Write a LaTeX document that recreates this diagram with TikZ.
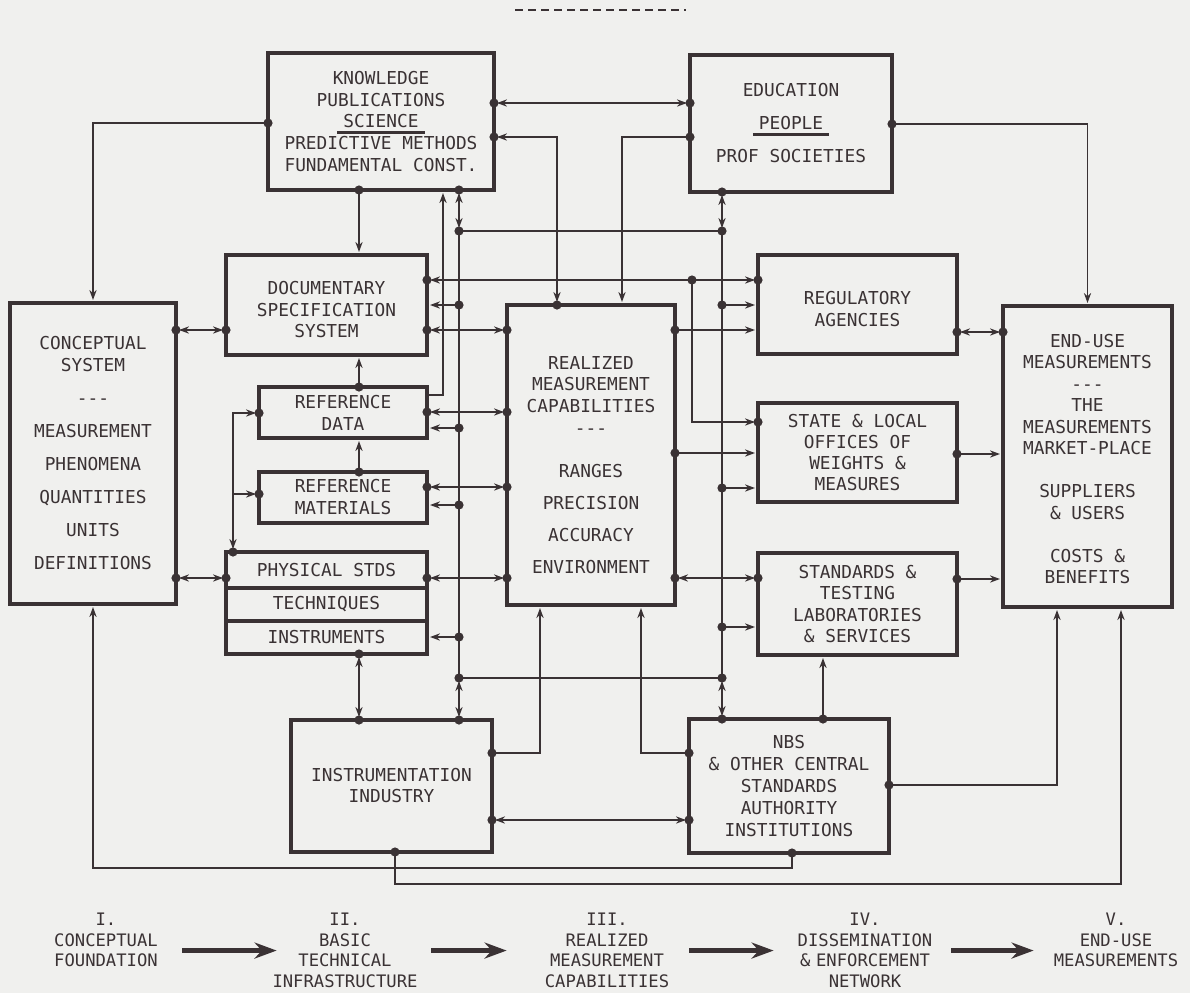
\documentclass[tikz,border=0pt]{standalone}
\usepackage{fontspec}
\setmonofont{DejaVu Sans Mono}
\usetikzlibrary{arrows.meta}

\definecolor{paper}{RGB}{240,240,238}
\definecolor{ink}{RGB}{58,50,52}

\def\px{0.5pt}
\newcommand\ulbar[1]{\setbox0\hbox{#1}\rlap{\kern-3pt\rule[-3.2pt]{\dimexpr\wd0+6pt\relax}{1.5pt}}\box0}

\begin{document}
\begin{tikzpicture}
[x=\px, y=-\px,
>={Stealth[length=5pt,width=3.6pt]},
block/.style={
  draw=ink, line width=2.25pt, outer sep=0pt, inner sep=0pt,
  text=ink, align=center, font=\ttfamily\fontsize{8.9}{10.75}\selectfont
},
lead/.style={font=\ttfamily\fontsize{8.9}{#1}\selectfont},
wire/.style={draw=ink, line width=0.8pt},
link/.style={wire, shorten >=1.5pt, shorten <=1.5pt},
stage/.style={
  anchor=north, inner sep=0pt, text width=80pt, align=center,
  text=ink, font=\ttfamily\fontsize{8.6}{10.25}\selectfont
},
flow/.style={draw=ink, line width=2.6pt, -{Stealth[length=11pt,width=8pt]}}
]
\useasboundingbox[fill=paper] (0,0) rectangle (1190,993);

% heading rule
\draw[ink, line width=1pt, dash pattern=on 4pt off 2.5pt] (515,10) -- (686,10);

% Knowledge and people
\node[block, lead=10.9pt, minimum width=226*\px, minimum height=137*\px] (kps) at (381,121.5)
  {KNOWLEDGE\\PUBLICATIONS\\\ulbar{SCIENCE}\\PREDICTIVE METHODS\\FUNDAMENTAL CONST.};
\node[block, lead=16.5pt, minimum width=202*\px, minimum height=137*\px] (edu) at (791,123.5)
  {EDUCATION\\\ulbar{PEOPLE}\\PROF SOCIETIES};

% Conceptual foundation
\node[block, lead=11pt, minimum width=166*\px, minimum height=301*\px] (cs) at (93,453.5)
  {CONCEPTUAL\\SYSTEM\\[5.5pt]-{}-{}-\\[5.5pt]MEASUREMENT\\[5.5pt]PHENOMENA\\[5.5pt]QUANTITIES\\[5.5pt]UNITS\\[5.5pt]DEFINITIONS};

% Basic technical infrastructure
\node[block, minimum width=201*\px, minimum height=100*\px] (dss) at (326.5,305)
  {\rule{0pt}{11.5pt}DOCUMENTARY\\SPECIFICATION\\SYSTEM};
\node[block, lead=11pt, minimum width=168*\px, minimum height=51*\px] (refdata) at (343,412.5) {REFERENCE\\DATA};
\node[block, lead=11pt, minimum width=168*\px, minimum height=51*\px] (refmat) at (343,497.5) {REFERENCE\\MATERIALS};
\node[block, minimum width=201*\px, minimum height=36*\px] (phys) at (326.5,570) {PHYSICAL STDS};
\node[block, minimum width=201*\px, minimum height=33*\px] (tech) at (326.5,604.5) {TECHNIQUES};
\node[block, minimum width=201*\px, minimum height=33*\px] (instr) at (326.5,637.5) {INSTRUMENTS};
\node[block, lead=10.5pt, minimum width=201*\px, minimum height=132*\px] (instind) at (391.5,786) {INSTRUMENTATION\\INDUSTRY};

% Realized measurement capabilities
\node[block, minimum width=168*\px, minimum height=300*\px] (realized) at (591,455)
  {\rule{0pt}{16.5pt}REALIZED\\MEASUREMENT\\CAPABILITIES\\[0.5pt]-{}-{}-\\[10.5pt]RANGES\\[5.25pt]PRECISION\\[5.25pt]ACCURACY\\[5.25pt]ENVIRONMENT};

% Dissemination & enforcement
\node[block, lead=11pt, minimum width=199*\px, minimum height=99*\px] (reg) at (857.5,304.5) {\rule{0pt}{11pt}REGULATORY\\AGENCIES};
\node[block, lead=10.5pt, minimum width=199*\px, minimum height=99*\px] (state) at (857.5,452.5) {STATE \& LOCAL\\OFFICES OF\\WEIGHTS \&\\MEASURES};
\node[block, lead=10.8pt, minimum width=199*\px, minimum height=102*\px] (stdlab) at (857.5,604) {STANDARDS \&\\TESTING\\LABORATORIES\\\& SERVICES};
\node[block, lead=11pt, minimum width=200*\px, minimum height=134*\px] (nbs) at (789,786) {NBS\\\& OTHER CENTRAL\\STANDARDS\\AUTHORITY\\INSTITUTIONS};

% End-use
\node[block, minimum width=169*\px, minimum height=301*\px] (enduse) at (1087.5,456.5)
  {\rule{0pt}{9pt}END-USE\\MEASUREMENTS\\-{}-{}-\\THE\\MEASUREMENTS\\MARKET-PLACE\\[10.75pt]SUPPLIERS\\\& USERS\\[10.75pt]COSTS \&\\BENEFITS};

% bus corners
\coordinate (bus nw) at (459,231);
\coordinate (bus ne) at (722,231);
\coordinate (bus sw) at (459,678);
\coordinate (bus se) at (722,678);
\coordinate (split) at (692,280);
\coordinate (riser) at (233,494);
\draw[wire] (bus nw) rectangle (bus se);

% knowledge links
\draw[link,->] (kps.west |- 0,123) -| (cs.north);
\draw[link,<->] (kps.east |- 0,103) -- (edu.west |- 0,103);
\draw[link,<->] (kps.east |- 0,137) -| (realized.north -| 557,0);
\draw[link,->] (kps.south -| 359,0) -- (dss.north -| 359,0);
\draw[link,<->] (kps.south -| bus nw) -- (bus nw);
\draw[link,<->] (edu.south -| bus ne) -- (bus ne);
\draw[link,->] (edu.west |- 0,137) -| (realized.north -| 622,0);
\draw[link,->] (edu.east |- 0,124) -| (enduse.north);

% conceptual links
\draw[link,<->] (cs.east |- 0,330) -- (dss.west |- 0,330);
\draw[link,<->] (cs.east |- 0,578) -- (phys.west |- 0,578);

% infrastructure links
\draw[link,->] (refdata.north -| 359,0) -- (dss.south -| 359,0);
\draw[link,->] (refmat.north -| 359,0) -- (refdata.south -| 359,0);
\draw[link,<->] (phys.north -| 233,0) |- (refdata.west |- 0,413);
\draw[link,->,shorten <=0pt] (riser) -- (refmat.west |- 0,494);
\draw[link,->,shorten <=0pt] (refdata.east |- 0,395) -| (kps.south -| 443,0);
\draw[link,<->] (dss.east |- 0,280) -- (reg.west |- 0,280);
\draw[link,->] (split) |- (state.west |- 0,422);
\draw[link,<->] (dss.east |- 0,330) -- (realized.west |- 0,330);
\draw[link,<->] (refdata.east |- 0,412) -- (realized.west |- 0,412);
\draw[link,<->] (refmat.east |- 0,487) -- (realized.west |- 0,487);
\draw[link,<->] (phys.east |- 0,578) -- (realized.west |- 0,578);
\draw[link,<->] (instr.south -| 359,0) -- (instind.north -| 359,0);

% bus taps
\draw[link,<->] (bus sw) -- (instind.north -| bus sw);
\draw[link,<->] (bus se) -- (nbs.north -| bus se);
\foreach \y/\nd in {305/dss, 428/refdata, 505/refmat, 637/instr}
  \draw[link,->] (bus nw |- 0,\y) -- (\nd.east |- 0,\y);
\foreach \y/\nd in {305/reg, 488/state, 627/stdlab}
  \draw[link,->] (bus ne |- 0,\y) -- (\nd.west |- 0,\y);

% realized to dissemination
\draw[link,->] (realized.east |- 0,330) -- (reg.west |- 0,330);
\draw[link,->] (realized.east |- 0,453) -- (state.west |- 0,453);
\draw[link,<->] (realized.east |- 0,578) -- (stdlab.west |- 0,578);
\draw[link,<->] (reg.east |- 0,332) -- (enduse.west |- 0,332);
\draw[link,->] (state.east |- 0,454) -- (enduse.west |- 0,454);
\draw[link,->] (stdlab.east |- 0,579) -- (enduse.west |- 0,579);

% industry and NBS
\draw[link,->] (instind.east |- 0,753) -| (realized.south -| 540,0);
\draw[link,->] (nbs.west |- 0,753) -| (realized.south -| 641,0);
\draw[link,<->] (instind.east |- 0,820) -- (nbs.west |- 0,820);
\draw[link,->] (nbs.north -| 823,0) -- (stdlab.south -| 823,0);
\draw[link,->] (nbs.east |- 0,785) -| (enduse.south -| 1057,0);
\draw[link,->] (instind.south -| 395,0) -- ++(0,32) -| (enduse.south -| 1121,0);
\draw[link,->] (nbs.south -| 792,0) -- ++(0,15) -| (cs.south);

% junction dots
\foreach \x/\y in {268/123, 494/103, 494/137, 359/190, 459/190,
  690/103, 690/137, 892/124, 722/192, 176/330, 176/578,
  226/330, 427/280, 427/330, 359/387, 259/413, 427/412,
  359/472, 259/494, 427/487, 233/552, 226/578, 427/578, 359/654,
  557/305, 507/330, 507/412, 507/487, 507/578, 675/330, 675/453, 675/578,
  758/280, 957/332, 758/422, 957/454, 758/578, 957/579, 1003/332,
  359/720, 459/720, 492/753, 492/820, 395/852,
  722/719, 823/719, 689/753, 689/820, 889/785, 792/853,
  459/231, 722/231, 459/678, 722/678, 692/280,
  459/305, 459/428, 459/505, 459/637, 722/305, 722/488, 722/627}
  \fill[ink] (\x,\y) circle (2.3pt);

% stages
\node[stage] (stage1) at (106,913) {I.\\CONCEPTUAL\\FOUNDATION};
\node[stage] (stage2) at (345,913) {II.\\BASIC\\TECHNICAL\\INFRASTRUCTURE};
\node[stage] (stage3) at (607,913) {III.\\REALIZED\\MEASUREMENT\\CAPABILITIES};
\node[stage] (stage4) at (865,913) {IV.\\DISSEMINATION\\\& ENFORCEMENT\\NETWORK};
\node[stage] (stage5) at (1116,913) {V.\\END-USE\\MEASUREMENTS};
\draw[flow, shorten <=-2pt, shorten >=-6pt] (stage1.east |- stage2) -- (stage2.west);
\draw[flow, shorten <=3pt, shorten >=10pt] (stage2.east) -- (stage3.west);
\draw[flow, shorten <=1pt, shorten >=5.5pt] (stage3.east) -- (stage4.west);
\draw[flow, shorten <=3pt, shorten >=1pt] (stage4.east) -- (stage5.west |- stage4);

\end{tikzpicture}
\end{document}
